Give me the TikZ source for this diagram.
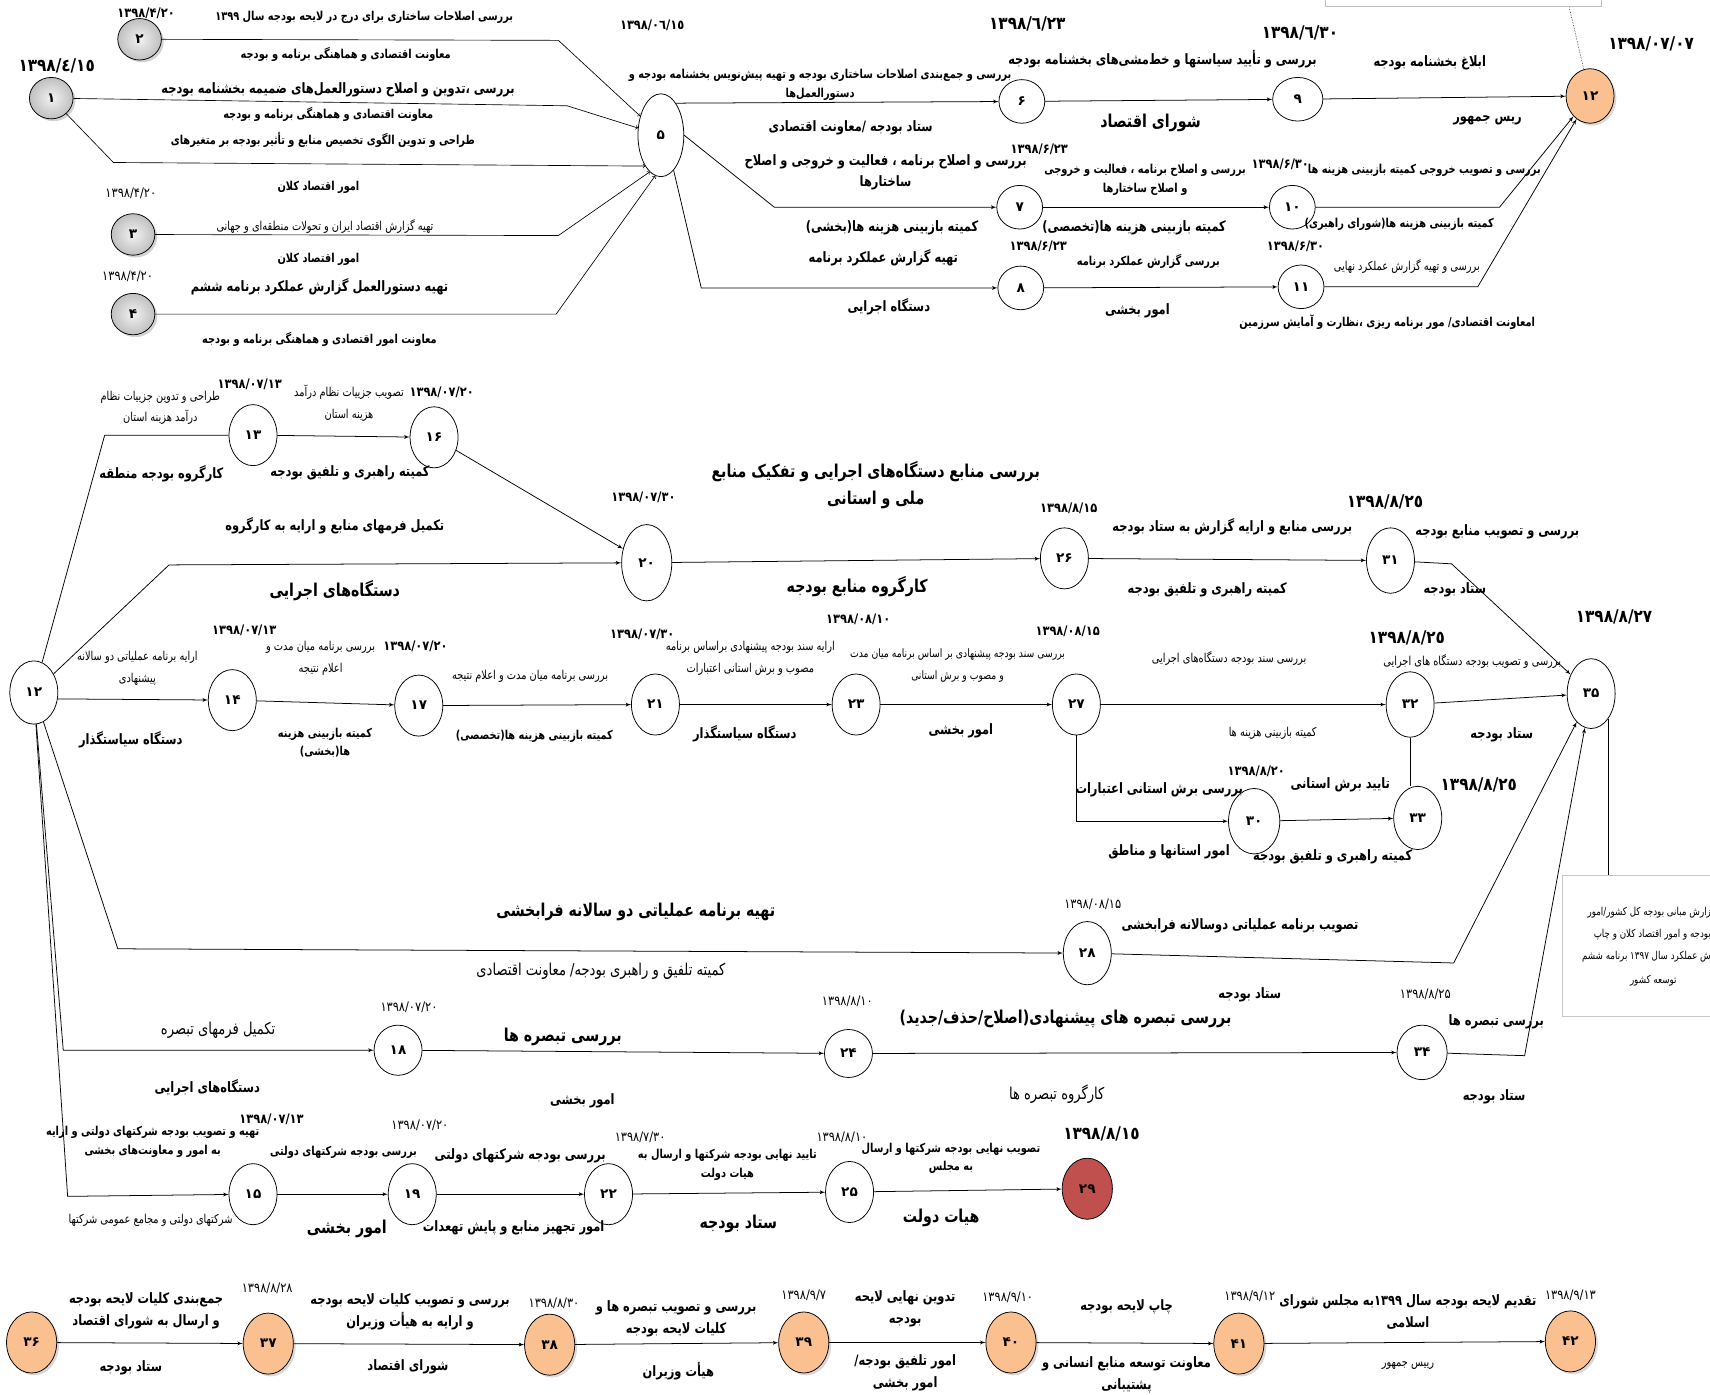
\documentclass[tikz,border=0pt]{standalone}
\usepackage{fontspec}
\usepackage{graphicx}
\newfontfamily\arabicfont[Script=Arabic]{DejaVu Sans}
\TeXXeTstate=1
\usetikzlibrary{arrows, shapes.geometric, shadows}
\definecolor{peach}{HTML}{FAC090}
\definecolor{brick}{HTML}{C0504D}
\newcommand{\rl}[1]{\scalebox{1}[1.25]{\beginR #1\endR}}
\newcommand{\dt}[1]{\scalebox{1}[1.15]{#1}}
\tikzset{
    vertex/.style={ellipse, draw, line width=0.7pt, inner sep=0pt, minimum width=44, minimum height=56,
        font=\arabicfont\bfseries\fontsize{12.5}{12}\selectfont},
    topv/.style={vertex, minimum width=42, minimum height=40},
    given/.style={vertex, minimum width=40, minimum height=38, drop shadow={opacity=0.35},
        shading=radial, inner color=gray!10, outer color=gray!50},
    due/.style={vertex, fill=peach, minimum width=46, minimum height=56, drop shadow={opacity=0.3}},
    last/.style={vertex, fill=brick, minimum width=46, minimum height=56},
    edge/.style={-, line width=0.7pt},
    dedge/.style={->, > = latex', line width=0.7pt},
    oedge/.style={->, > = to, line width=0.6pt},
    head/.style={font=\arabicfont\bfseries\fontsize{13}{25}\selectfont, align=center, inner sep=1pt},
    task/.style={font=\arabicfont\bfseries\fontsize{10.5}{20}\selectfont, align=center, inner sep=1pt},
    tasks/.style={font=\arabicfont\bfseries\fontsize{9}{17}\selectfont, align=center, inner sep=1pt},
    memo/.style={font=\arabicfont\fontsize{9}{20}\selectfont, align=center, inner sep=1pt},
    memob/.style={font=\arabicfont\fontsize{12}{16}\selectfont, align=center, inner sep=1pt},
    day/.style={font=\arabicfont\bfseries\fontsize{10.5}{12}\selectfont, inner sep=1pt},
    dayr/.style={font=\arabicfont\fontsize{10.5}{12}\selectfont, inner sep=1pt},
    dayb/.style={font=\arabicfont\bfseries\fontsize{14}{16}\selectfont, inner sep=1pt},
}
\begin{document}
\begin{tikzpicture}[x=1pt, y=-1pt]
    \useasboundingbox (0,0) rectangle (1568,1279);

    % circulars (top block)
    \node[given] (n1) at (47,90) {۱};
    \node[given] (n2) at (128,36) {۲};
    \node[given] (n3) at (122,215) {۳};
    \node[given] (n4) at (122,288) {۴};
    \node[vertex, minimum width=42, minimum height=76] (n5) at (606,124) {۵};
    \node[topv] (n6) at (937,93) {۶};
    \node[topv] (n7) at (935,190) {۷};
    \node[topv] (n8) at (936,264) {۸};
    \node[topv, minimum width=46] (n9) at (1190,91) {۹};
    \node[topv] (n10) at (1185,190) {۱۰};
    \node[topv] (n11) at (1193,263) {۱۱};
    \node[due, minimum width=44, minimum height=50] (n12a) at (1458,88) {۱۲};

    \node[dayb] (d1) at (52,60) {\dt{١٣٩٨/٤/١٥}};
    \node[day] (d2) at (134,12) {\dt{۱۳۹۸/۴/۲۰}};
    \node[dayr] (d3) at (120,177) {\dt{۱۳۹۸/۴/۲۰}};
    \node[dayr] (d4) at (117,253) {\dt{۱۳۹۸/۴/۲۰}};
    \node[day] (d5) at (598,23) {\dt{١٣٩٨/٠٦/١٥}};
    \node[dayb] (d6) at (942,22) {\dt{١٣٩٨/٦/٢٣}};
    \node[day] (d7) at (953,137) {\dt{۱۳۹۸/۶/۲۳}};
    \node[day] (d8) at (952,226) {\dt{۱۳۹۸/۶/۲۳}};
    \node[dayb] (d9) at (1192,30) {\dt{١٣٩٨/٦/٣٠}};
    \node[day] (d10) at (1174,151) {\dt{۱۳۹۸/۶/۳۰}};
    \node[day] (d11) at (1188,226) {\dt{۱۳۹۸/۶/۳۰}};
    \node[dayb] (d12) at (1514,40) {\dt{١٣٩٨/٠٧/٠٧}};

    \node[tasks] (t1) at (334,16) {\rl{بررسی اصلاحات ساختاری برای درج در لایحه بودجه سال ۱۳۹۹}};
    \node[tasks] (t2) at (317,50) {\rl{معاونت اقتصادی و هماهنگی برنامه و بودجه}};
    \node[task] (t3) at (310,82) {\rl{بررسی ،تدوین و اصلاح دستورالعمل^^^^200cهای ضمیمه بخشنامه بودجه}};
    \node[tasks] (t4) at (301,105) {\rl{معاونت اقتصادی و هماهنگی برنامه و بودجه}};
    \node[tasks] (t5) at (296,128) {\rl{طراحی و تدوین الگوی تخصیص منابع و تأثیر بودجه بر متغیرهای}};
    \node[tasks] (t6) at (292,172) {\rl{امور اقتصاد کلان}};
    \node[memo] (t7) at (298,208) {\rl{تهیه گزارش اقتصاد ایران و تحولات منطقه^^^^200cای و جهانی}};
    \node[tasks] (t8) at (292,238) {\rl{امور اقتصاد کلان}};
    \node[task] (t9) at (293,263) {\rl{تهیه دستورالعمل گزارش عملکرد برنامه ششم}};
    \node[tasks] (t10) at (293,311) {\rl{معاونت امور اقتصادی و هماهنگی برنامه و بودجه}};

    \node[tasks] (t11) at (752,78) {\rl{بررسی و جمع^^^^200cبندی اصلاحات ساختاری بودجه و تهیه پیش^^^^200cنویس بخشنامه بودجه و}\\\rl{دستورالعمل^^^^200cها}};
    \node[task] (t12) at (780,117) {\rl{ستاد بودجه /معاونت اقتصادی}};
    \node[task] (t13) at (812,158) {\rl{بررسی و اصلاح برنامه ، فعالیت و خروجی و اصلاح}\\\rl{ساختارها}};
    \node[task] (t14) at (818,209) {\rl{کمیته بازبینی هزینه ها(بخشی)}};
    \node[task] (t15) at (810,236) {\rl{تهیه گزارش عملکرد برنامه}};
    \node[task] (t16) at (815,281) {\rl{دستگاه اجرایی}};
    \node[task] (t17) at (1066,54) {\rl{بررسی و تأیید سیاستها و خط^^^^200cمشی^^^^200cهای بخشنامه بودجه}};
    \node[head] (t18) at (1055,113) {\rl{شورای اقتصاد}};
    \node[task] (t19) at (1311,58) {\rl{ابلاغ بخشنامه بودجه}};
    \node[task] (t20) at (1364,110) {\rl{ریس جمهور}};
    \node[tasks] (t21) at (1050,165) {\rl{بررسی و اصلاح برنامه ، فعالیت و خروجی}\\\rl{و اصلاح ساختارها}};
    \node[tasks] (t22) at (1306,156) {\rl{بررسی و تصویب خروجی کمیته بازبینی هزینه ها}};
    \node[task] (t23) at (1040,209) {\rl{کمیته بازبینی هزینه ها(تخصصی)}};
    \node[tasks] (t24) at (1283,206) {\rl{کمیته بازبینی هزینه ها(شورای راهبری)}};
    \node[tasks] (t25) at (1053,240) {\rl{بررسی گزارش عملکرد برنامه}};
    \node[memo] (t26) at (1290,244) {\rl{بررسی و تهیه گزارش عملکرد نهایی}};
    \node[task] (t27) at (1043,285) {\rl{امور بخشی}};
    \node[tasks] (t28) at (1272,295) {\rl{امعاونت اقتصادی/ مور برنامه ریزی ،نظارت و آمایش سرزمین}};

    \draw[oedge] (n2) -- (512,37) -- (n5);
    \draw[oedge] (n1) -- (520,97) -- (n5);
    \draw[oedge] (n1) -- (104,149) -- (n5.243);
    \draw[oedge] (n3) -- (512,216) -- (n5.253);
    \draw[oedge] (n4) -- (510,288) -- (n5.262);
    \draw[dedge] (n5.65) -- (n6);
    \draw[dedge] (n5.east) -- (710,190) -- (n7);
    \draw[dedge] (n5.290) -- (643,264) -- (n8);
    \draw[dedge] (n6) -- (n9);
    \draw[dedge] (n9) -- (n12a);
    \draw[dedge] (n7) -- (n10);
    \draw[dedge] (n10) -- (1375,190) -- (n12a);
    \draw[dedge] (n8) -- (n11);
    \draw[dedge] (n11) -- (1355,263) -- (n12a);
    \node[draw=gray!50, minimum width=253, minimum height=20, anchor=south west, inner sep=0pt] (topbox) at (1215,6) {};
    \coordinate (topend) at (1439,7);
    \draw[densely dotted, line width=0.5pt] (topend) -- (n12a);

    % middle block
    \node[vertex, minimum height=58] (n12b) at (31,635) {۱۲};
    \node[vertex] (n13) at (232,399) {۱۳};
    \node[vertex] (n16) at (398,401) {۱۶};
    \node[vertex, minimum width=46, minimum height=70] (n20) at (593,516) {۲۰};
    \node[vertex] (n26) at (976,512) {۲۶};
    \node[vertex, minimum height=60] (n31) at (1275,514) {۳۱};
    \node[vertex, minimum height=64] (n35) at (1459,636) {۳۵};
    \node[vertex] (n14) at (213,642) {۱۴};
    \node[vertex] (n17) at (384,647) {۱۷};
    \node[vertex] (n21) at (601,646) {۲۱};
    \node[vertex] (n23) at (785,646) {۲۳};
    \node[vertex] (n27) at (987,646) {۲۷};
    \node[vertex, minimum height=60] (n32) at (1293,646) {۳۲};
    \node[vertex, minimum width=47, minimum height=60] (n30) at (1150,753) {۳۰};
    \node[vertex, minimum height=58] (n33) at (1300,750) {۳۳};
    \node[vertex, minimum height=58] (n28) at (997,874) {۲۸};
    \node[vertex, minimum height=46] (n18) at (365,963) {۱۸};
    \node[vertex, minimum height=44] (n24) at (778,966) {۲۴};
    \node[vertex, minimum width=46, minimum height=50] (n34) at (1304,965) {۳۴};
    \node[vertex] (n15) at (232,1095) {۱۵};
    \node[vertex] (n19) at (378,1095) {۱۹};
    \node[vertex] (n22) at (558,1095) {۲۲};
    \node[vertex] (n25) at (779,1093) {۲۵};
    \node[last] (n29) at (997,1090) {۲۹};

    \node[day] (d13) at (229,352) {\dt{۱۳۹۸/۰۷/۱۳}};
    \node[memo] (m1) at (147,374) {\rl{طراحی و تدوین جزییات نظام}\\\rl{درآمد هزینه استان}};
    \node[task] (m2) at (148,434) {\rl{کارگروه بودجه منطقه}};
    \node[day] (d14) at (405,360) {\dt{۱۳۹۸/۰۷/۲۰}};
    \node[memo] (m3) at (320,370) {\rl{تصویب جزییات نظام درآمد}\\\rl{هزینه استان}};
    \node[task] (m4) at (321,434) {\rl{کمیته راهبری و تلفیق بودجه}};
    \node[task] (m5) at (307,482) {\rl{تکمیل فرمهای منابع و ارایه به کارگروه}};
    \node[head] (m6) at (307,542) {\rl{دستگاه^^^^200cهای اجرایی}};
    \node[day] (d15) at (590,456) {\dt{۱۳۹۸/۰۷/۳۰}};
    \node[head] (m7) at (803,445) {\rl{بررسی منابع دستگاه^^^^200cهای اجرایی و تفکیک منابع}\\\rl{ملی و استانی}};
    \node[head] (m8) at (786,538) {\rl{کارگروه منابع بودجه}};
    \node[day] (d16) at (980,466) {\dt{۱۳۹۸/۸/۱۵}};
    \node[task] (m9) at (1130,483) {\rl{بررسی منابع و ارایه گزارش به ستاد بودجه}};
    \node[task] (m10) at (1107,541) {\rl{کمیته راهبری و تلفیق بودجه}};
    \node[dayb] (d17) at (1270,460) {\dt{١٣٩٨/٨/٢٥}};
    \node[task] (m11) at (1373,488) {\rl{بررسی و تصویب منابع بودجه}};
    \node[task] (m12) at (1334,541) {\rl{ستاد بودجه}};
    \node[dayb] (d18) at (1480,566) {\dt{١٣٩٨/٨/٢٧}};
    \node[memo] (m13) at (126,613) {\rl{ارایه برنامه عملیاتی دو سالانه}\\\rl{پیشنهادی}};
    \node[day] (d19) at (224,578) {\dt{۱۳۹۸/۰۷/۱۳}};
    \node[task] (m14) at (120,678) {\rl{دستگاه سیاستگذار}};
    \node[day] (d20) at (381,593) {\dt{۱۳۹۸/۰۷/۲۰}};
    \node[memo] (m15) at (294,604) {\rl{بررسی برنامه میان مدت و}\\\rl{اعلام نتیجه}};
    \node[tasks] (m16) at (298,681) {\rl{کمیته بازبینی هزینه}\\\rl{ها(بخشی)}};
    \node[memo] (m17) at (486,620) {\rl{بررسی برنامه میان مدت و اعلام نتیجه}};
    \node[tasks] (m18) at (490,675) {\rl{کمیته بازبینی هزینه ها(تخصصی)}};
    \node[day] (d21) at (589,582) {\dt{۱۳۹۸/۰۷/۳۰}};
    \node[memo] (m19) at (688,604) {\rl{ارایه سند بودجه پیشنهادی براساس برنامه}\\\rl{مصوب و برش استانی اعتبارات}};
    \node[task] (m20) at (683,673) {\rl{دستگاه سیاستگذار}};
    \node[day] (d22) at (787,568) {\dt{۱۳۹۸/۰۸/۱۰}};
    \node[memo, font=\arabicfont\fontsize{8.5}{20}\selectfont] (m21) at (878,610) {\rl{بررسی سند بودجه پیشنهادی بر اساس برنامه میان مدت}\\\rl{و مصوب و برش استانی}};
    \node[task] (m22) at (881,670) {\rl{امور بخشی}};
    \node[day] (d23) at (979,579) {\dt{۱۳۹۸/۰۸/۱۵}};
    \node[memo] (m23) at (1127,604) {\rl{بررسی سند بودجه دستگاه^^^^200cهای اجرایی}};
    \node[memo] (m24) at (1167,672) {\rl{کمیته بازبینی هزینه ها}};
    \node[dayb] (d24) at (1290,585) {\dt{١٣٩٨/٨/٢٥}};
    \node[memo] (m25) at (1350,607) {\rl{بررسی و تصویب بودجه دستگاه های اجرایی}};
    \node[task] (m26) at (1377,674) {\rl{ستاد بودجه}};
    \node[day] (d25) at (1152,707) {\dt{۱۳۹۸/۸/۲۰}};
    \node[task] (m27) at (1063,724) {\rl{بررسی برش استانی اعتبارات}};
    \node[task] (m28) at (1072,781) {\rl{امور استانها و مناطق}};
    \node[task] (m29) at (1229,720) {\rl{تایید برش استانی}};
    \node[task] (m30) at (1222,786) {\rl{کمیته راهبری و تلفیق بودجه}};
    \node[dayb] (d26) at (1356,720) {\dt{١٣٩٨/٨/٢٥}};

    \node[head] (m31) at (583,836) {\rl{تهیه برنامه عملیاتی دو سالانه فرابخشی}};
    \node[memob] (m32) at (551,891) {\rl{کمیته تلفیق و راهبری بودجه/ معاونت اقتصادی}};
    \node[dayr] (d27) at (1002,829) {\dt{۱۳۹۸/۰۸/۱۵}};
    \node[task] (m33) at (1137,849) {\rl{تصویب برنامه عملیاتی دوسالانه فرابخشی}};
    \node[task] (m34) at (1146,912) {\rl{ستاد بودجه}};
    \node[memob] (m35) at (200,945) {\rl{تکمیل فرمهای تبصره}};
    \node[task] (m36) at (190,997) {\rl{دستگاه^^^^200cهای اجرایی}};
    \node[dayr] (d28) at (375,924) {\dt{۱۳۹۸/۰۷/۲۰}};
    \node[head] (m37) at (516,951) {\rl{بررسی تبصره ها}};
    \node[task] (m38) at (534,1009) {\rl{امور بخشی}};
    \node[dayr] (d29) at (777,918) {\dt{۱۳۹۸/۸/۱۰}};
    \node[head] (m39) at (977,934) {\rl{بررسی تبصره های پیشنهادی(اصلاح/حذف/جدید)}};
    \node[memob] (m40) at (969,1003) {\rl{کارگروه تبصره ها}};
    \node[dayr] (d30) at (1307,912) {\dt{۱۳۹۸/۸/۲۵}};
    \node[task] (m41) at (1372,937) {\rl{بررسی تبصره ها}};
    \node[task] (m42) at (1370,1006) {\rl{ستاد بودجه}};
    \node[day] (d31) at (249,1026) {\dt{۱۳۹۸/۰۷/۱۳}};
    \node[tasks] (m43) at (140,1047) {\rl{تهیه و تصویب بودجه شرکتهای دولتی و ارایه}\\\rl{به امور و معاونت^^^^200cهای بخشی}};
    \node[memo] (m44) at (138,1119) {\rl{شرکتهای دولتی و مجامع عمومی شرکتها}};
    \node[dayr] (d32) at (385,1032) {\dt{۱۳۹۸/۰۷/۲۰}};
    \node[tasks] (m45) at (315,1057) {\rl{بررسی بودجه شرکتهای دولتی}};
    \node[head] (m46) at (318,1127) {\rl{امور بخشی}};
    \node[task] (m47) at (471,1126) {\rl{امور تجهیز منابع و پایش تهعدات}};
    \node[task] (m48) at (477,1060) {\rl{بررسی بودجه شرکتهای دولتی}};
    \node[dayr] (d33) at (587,1043) {\dt{۱۳۹۸/۷/۳۰}};
    \node[tasks] (m49) at (667,1068) {\rl{تایید نهایی بودجه شرکتها و ارسال به}\\\rl{هیات دولت}};
    \node[head] (m50) at (677,1122) {\rl{ستاد بودجه}};
    \node[dayr] (d34) at (772,1043) {\dt{۱۳۹۸/۸/۱۰}};
    \node[tasks] (m51) at (872,1062) {\rl{تصویب نهایی بودجه شرکتها و ارسال}\\\rl{به مجلس}};
    \node[head] (m52) at (863,1117) {\rl{هیات دولت}};
    \node[dayb] (d35) at (1010,1040) {\dt{١٣٩٨/٨/١٥}};

    \draw[edge] (n12b) -- (96,399) -- (n13);
    \draw[dedge] (n13) -- (n16);
    \draw[dedge] (n16) -- (n20);
    \draw[dedge] (n12b) -- (155,518) -- (n20);
    \draw[dedge] (n20) -- (n26);
    \draw[dedge] (n26) -- (n31);
    \draw[dedge] (n31) -- (1331,517) -- (n35);
    \draw[dedge] (n12b.-15) -- (n14);
    \draw[dedge] (n14) -- (n17);
    \draw[dedge] (n17) -- (n21);
    \draw[dedge] (n21) -- (n23);
    \draw[dedge] (n23) -- (n27);
    \draw[dedge] (n27) -- (n32);
    \draw[dedge] (n32) -- (n35);
    \draw[dedge] (n27.south) |- (n30);
    \draw[dedge] (n30) -- (n33);
    \draw[edge] (n32.south) -- (n32.south |- n33.north);
    \draw[dedge] (n12b) -- (108,870) -- (n28);
    \draw[dedge] (n28) -- (1333,883) -- (n35);
    \draw[dedge] (n12b) -- (58,963) -- (n18);
    \draw[dedge] (n18) -- (n24);
    \draw[dedge] (n24) -- (n34);
    \draw[dedge] (n34) -- (1398,968) -- (n35);
    \draw[dedge] (n12b) -- (62,1097) -- (n15);
    \draw[dedge] (n15) -- (n19);
    \draw[dedge] (n19) -- (n22);
    \draw[dedge] (n22) -- (n25);
    \draw[dedge] (n25) -- (n29);

    % side note
    \node[draw=gray!45, minimum width=170, minimum height=130, anchor=north west, inner sep=0pt] (note) at (1432,802) {};
    \draw[edge] (n35.south east) -- (n35.south east |- note.north);
    \node[memo, anchor=east, font=\arabicfont\fontsize{8}{10}\selectfont] (nt1) at (1570,837) {\rl{زارش مبانی بودجه کل کشور/امور}};
    \node[memo, anchor=east, font=\arabicfont\fontsize{8}{10}\selectfont] (nt2) at (1570,857) {\rl{بودجه و امور اقتصاد کلان و چاپ}};
    \node[memo, anchor=east, font=\arabicfont\fontsize{8}{10}\selectfont] (nt3) at (1570,877) {\rl{ش عملکرد سال ۱۳۹۷ برنامه ششم}};
    \node[memo, font=\arabicfont\fontsize{8}{10}\selectfont] (nt4) at (1516,899) {\rl{توسعه کشور}};

    % last row
    \node[due] (n36) at (29,1231) {۳۶};
    \node[due] (n37) at (246,1232) {۳۷};
    \node[due] (n38) at (504,1233) {۳۸};
    \node[due] (n39) at (737,1231) {۳۹};
    \node[due] (n40) at (927,1231) {۴۰};
    \node[due] (n41) at (1136,1232) {۴۱};
    \node[due] (n42) at (1440,1230) {۴۲};
    \draw[dedge] (n36) -- (n37);
    \draw[dedge] (n37) -- (n38);
    \draw[dedge] (n38) -- (n39);
    \draw[dedge] (n39) -- (n40);
    \draw[dedge] (n40) -- (n41);
    \draw[dedge] (n41) -- (n42);

    \node[task] (b1) at (134,1202) {\rl{جمع^^^^200cبندی کلیات لایحه بودجه}\\\rl{و ارسال به شورای اقتصاد}};
    \node[dayr] (d36) at (245,1181) {\dt{۱۳۹۸/۸/۲۸}};
    \node[task] (b2) at (120,1254) {\rl{ستاد بودجه}};
    \node[task] (b3) at (376,1203) {\rl{بررسی و تصویب کلیات لایحه بودجه}\\\rl{و ارایه به هیأت وزیران}};
    \node[task] (b4) at (374,1253) {\rl{شورای اقتصاد}};
    \node[dayr] (d37) at (508,1195) {\dt{۱۳۹۸/۸/۳۰}};
    \node[task] (b5) at (620,1209) {\rl{بررسی و تصویب تبصره ها و}\\\rl{کلیات لایحه بودجه}};
    \node[task] (b6) at (622,1257) {\rl{هیأت وزیران}};
    \node[dayr] (d38) at (737,1188) {\dt{۱۳۹۸/۹/۷}};
    \node[task] (b7) at (830,1200) {\rl{تدوین نهایی لایحه}\\\rl{بودجه}};
    \node[task] (b8) at (830,1259) {\rl{امور تلفیق بودجه/}\\\rl{امور بخشی}};
    \node[dayr] (d39) at (924,1190) {\dt{۱۳۹۸/۹/۱۰}};
    \node[task] (b9) at (1033,1198) {\rl{چاپ لایحه بودجه}};
    \node[task] (b10) at (1033,1261) {\rl{معاونت توسعه منابع انسانی و}\\\rl{پشتیبانی}};
    \node[dayr] (d40) at (1146,1189) {\dt{۱۳۹۸/۹/۱۲}};
    \node[task] (b11) at (1291,1203) {\rl{تقدیم لایحه بودجه سال ۱۳۹۹به مجلس شورای}\\\rl{اسلامی}};
    \node[memo] (b12) at (1291,1252) {\rl{رییس جمهور}};
    \node[dayr] (d41) at (1440,1188) {\dt{۱۳۹۸/۹/۱۳}};
\end{tikzpicture}
\end{document}
